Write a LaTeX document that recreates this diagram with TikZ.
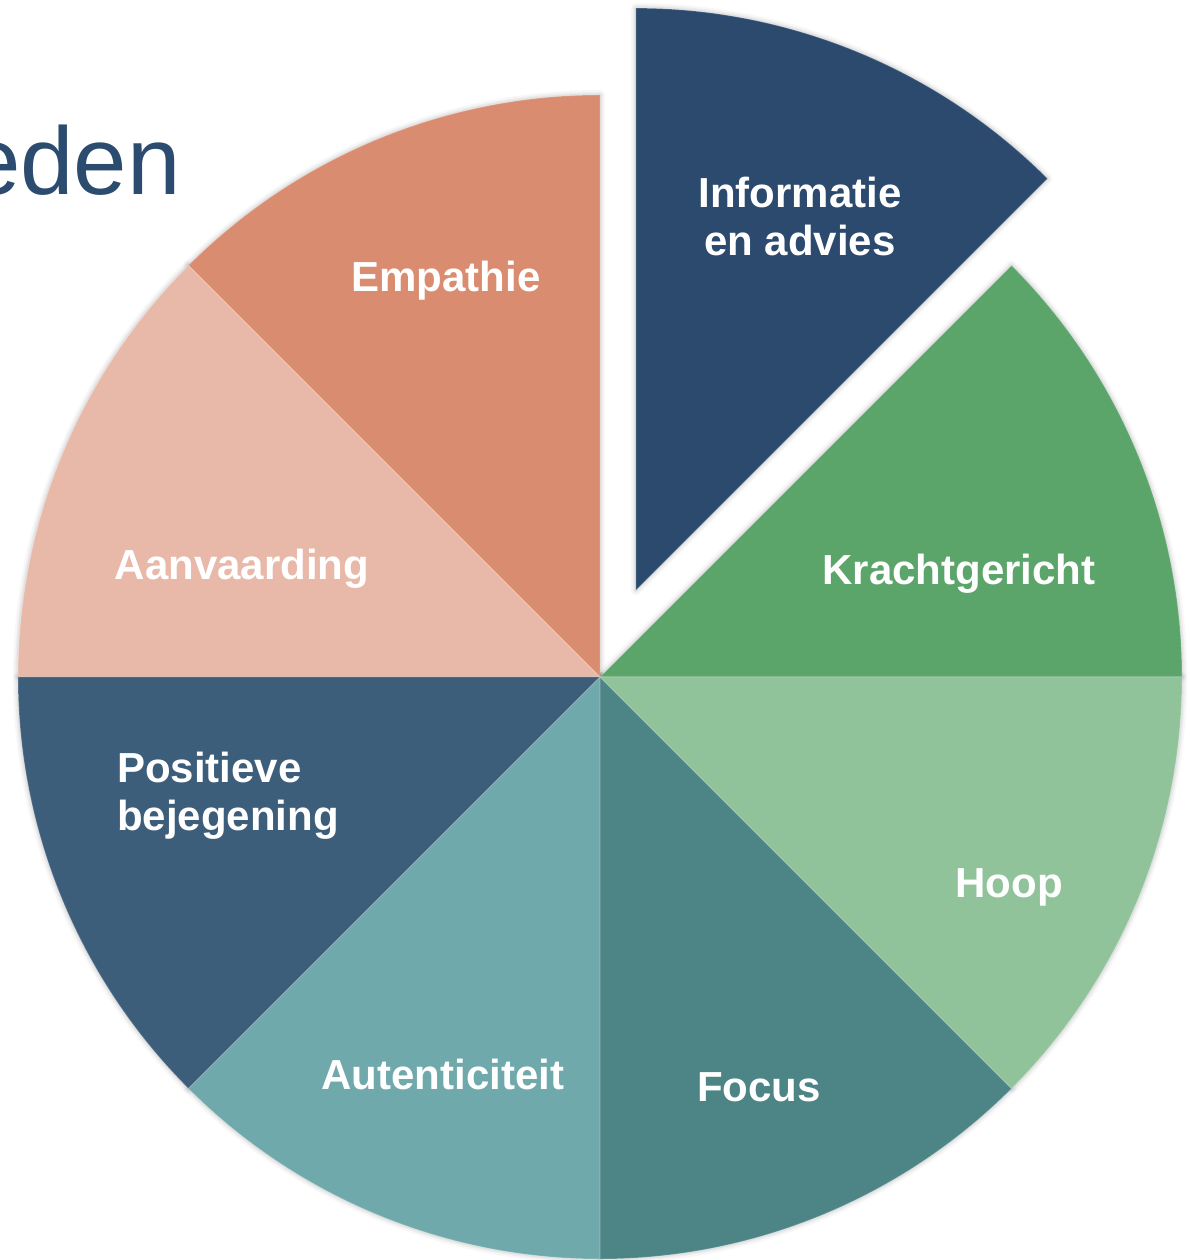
\documentclass[tikz,border=0pt]{standalone}
\usepackage{fontspec}
\setmainfont{Liberation Sans}
\usetikzlibrary{calc}
\definecolor{cInfo}{HTML}{2C4A6E}
\definecolor{cKracht}{HTML}{5BA56B}
\definecolor{cHoop}{HTML}{91C39A}
\definecolor{cFocus}{HTML}{4D8486}
\definecolor{cAuth}{HTML}{6FA9AC}
\definecolor{cPos}{HTML}{3D5E7B}
\definecolor{cAanv}{HTML}{E8B9A9}
\definecolor{cEmp}{HTML}{D98C70}
\definecolor{cTitle}{HTML}{2B4B6F}
\newcommand{\pieslice}[4]{% options, center, start, end
  \path[#1] (#2) -- ++(#3:582) arc[start angle=#3, end angle=#4, radius=582] -- cycle;}
\begin{document}
\begin{tikzpicture}[x=1pt,y=1pt,
  slicefill/.style={fill=#1, draw=white, draw opacity=0.2, line width=1pt, line join=round},
  halo/.style={draw=black, draw opacity=#1, line join=round},
  lbl/.style={text=white, font=\fontsize{42}{48}\selectfont\bfseries, align=center, inner sep=0pt}]
\useasboundingbox (0,0) rectangle (1189,1260);
\clip (0,0) rectangle (1189,1260);
\coordinate (C) at (600,583);
\coordinate (E) at ($(C)+(67.5:94)$);
% title fragment
\node[anchor=base east, inner sep=0pt, text=cTitle, font=\fontsize{96}{110}\selectfont] (title) at (181,1065) {eden};
% soft shadow
\foreach \w/\o in {10/0.03,6/0.04,3/0.05} {
  \pieslice{halo=\o, line width=\w pt}{E}{45}{90}
  \foreach \a in {0,90,135,180,225,270,315} {
    \pieslice{halo=\o, line width=\w pt}{C}{\a}{\a+45}
  }
}
% slices
\pieslice{slicefill=cKracht}{C}{0}{45}
\pieslice{slicefill=cInfo}{E}{45}{90}
\pieslice{slicefill=cEmp}{C}{90}{135}
\pieslice{slicefill=cAanv}{C}{135}{180}
\pieslice{slicefill=cPos}{C}{180}{225}
\pieslice{slicefill=cAuth}{C}{225}{270}
\pieslice{slicefill=cFocus}{C}{270}{315}
\pieslice{slicefill=cHoop}{C}{315}{360}
% labels
\node[lbl] (info) at (800,1043) {Informatie\\en advies};
\node[lbl] (emp) at (446,979) {Empathie};
\node[lbl] (aanv) at (242,691) {Aanvaarding};
\node[lbl] (kracht) at (959,686) {Krachtgericht};
\node[lbl, align=left, anchor=west] (pos) at (117,464) {Positieve\\bejegening};
\node[lbl] (hoop) at (1009,373) {Hoop};
\node[lbl] (focus) at (759,173) {Focus};
\node[lbl] (auth) at (443,186) {Autenticiteit};
\end{tikzpicture}
\end{document}
